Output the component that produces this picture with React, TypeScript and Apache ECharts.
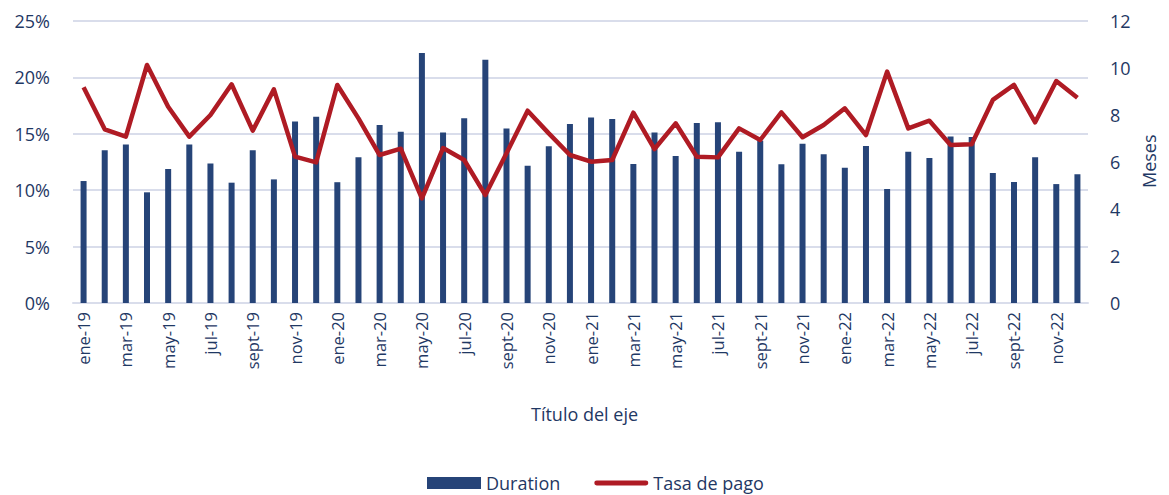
import React, { useEffect, useRef } from "react";
import * as echarts from "echarts";

const months = ["ene", "feb", "mar", "abr", "may", "jun", "jul", "ago", "sept", "oct", "nov", "dic"];
const years = ["19", "20", "21", "22"];
const categories: string[] = years.flatMap((y) => months.map((m) => `${m}-${y}`));

// Duration (meses) - right axis, ene-19 .. dic-22
const durationData = [
  5.19, 6.5, 6.75, 4.71, 5.7, 6.75, 5.94, 5.12, 6.5, 5.26, 7.72, 7.93,
  5.14, 6.2, 7.57, 7.29, 10.64, 7.26, 7.86, 10.35, 7.43, 5.84, 6.67, 7.62,
  7.89, 7.83, 5.91, 7.26, 6.26, 7.66, 7.69, 6.44, 6.9, 5.9, 6.78, 6.33,
  5.76, 6.68, 4.85, 6.44, 6.17, 7.09, 7.06, 5.53, 5.15, 6.2, 5.06, 5.48,
];
// Tasa de pago (%) - left axis
const tasaPago = [
  19.12, 15.4, 14.75, 21.1, 17.4, 14.75, 16.67, 19.39, 15.28, 18.94, 12.97, 12.47,
  19.33, 16.37, 13.12, 13.68, 9.28, 13.74, 12.68, 9.57, 13.27, 17.05, 15.04, 13.12,
  12.53, 12.68, 16.87, 13.65, 15.93, 12.97, 12.91, 15.48, 14.45, 16.9, 14.69, 15.78,
  17.26, 14.89, 20.51, 15.48, 16.16, 14.01, 14.07, 18.0, 19.33, 16.02, 19.68, 18.2,
];

const TEXT = "#1F3864";
const FONT = "'Open Sans', 'Noto Sans', sans-serif";

export default function App() {
  const ref = useRef<HTMLDivElement>(null);
  useEffect(() => {
    if (!ref.current) return;
    const chart = echarts.init(ref.current, null, { renderer: "svg" });
    chart.setOption({
      animation: false,
      textStyle: { fontFamily: FONT, color: TEXT },
      grid: { left: 73, right: 81, top: 21, height: 282 },
      legend: {
        left: 427,
        top: 472,
        padding: 0,
        itemGap: 34,
        itemWidth: 54,
        itemHeight: 12,
        textStyle: { fontFamily: FONT, fontSize: 18, color: TEXT, lineHeight: 22 },
        data: [
          { name: "Duration", icon: "rect" },
          {
            name: "Tasa de pago",
            icon: "path://M2.5,0 L54,0 A2.5,2.5 0 0 1 54,5 L2.5,5 A2.5,2.5 0 0 1 2.5,0 Z",
          },
        ],
      },
      graphic: [
        {
          type: "text",
          left: "center",
          top: 405,
          x: -6,
          style: { text: "Título del eje", fontSize: 18, fontFamily: FONT, fill: TEXT },
        },
        {
          type: "text",
          x: 1140,
          y: 188,
          rotation: Math.PI / 2,
          style: { text: "Meses", fontSize: 18, fontFamily: FONT, fill: TEXT },
        },
      ],
      xAxis: {
        type: "category",
        data: categories,
        boundaryGap: true,
        axisLine: { lineStyle: { color: "#D9DDEB", width: 2 } },
        axisTick: { show: false },
        axisLabel: {
          interval: 1,
          rotate: 90,
          margin: 9,
          fontSize: 16.5,
          fontFamily: FONT,
          color: TEXT,
        },
      },
      yAxis: [
        {
          type: "value",
          min: 0,
          max: 25,
          interval: 5,
          axisLine: { show: false },
          axisTick: { show: false },
          splitLine: { lineStyle: { color: "#D9DDEB", width: 2 } },
          axisLabel: { formatter: "{value}%", fontSize: 18, margin: 23, color: TEXT, fontFamily: FONT },
        },
        {
          type: "value",
          min: 0,
          max: 12,
          interval: 2,
          position: "right",
          axisLine: { show: false },
          axisTick: { show: false },
          splitLine: { show: false },
          axisLabel: { fontSize: 18, margin: 22, color: TEXT, fontFamily: FONT },
        },
      ],
      series: [
        {
          name: "Duration",
          type: "bar",
          yAxisIndex: 1,
          data: durationData,
          barWidth: 6,
          itemStyle: { color: "#264478" },
        },
        {
          name: "Tasa de pago",
          type: "line",
          yAxisIndex: 0,
          data: tasaPago,
          symbol: "none",
          lineStyle: { color: "#AF1B24", width: 4.5, join: "round" },
          itemStyle: { color: "#AF1B24" },
        },
      ],
    });
    return () => chart.dispose();
  }, []);
  return <div ref={ref} style={{ width: 1169, height: 495, position: "absolute", left: 0, top: 0 }} />;
}
